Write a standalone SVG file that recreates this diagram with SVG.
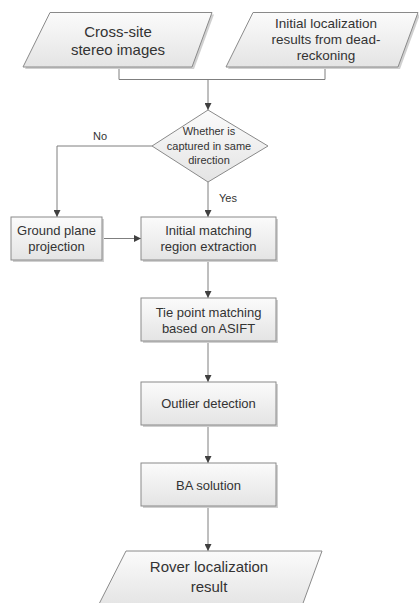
<svg xmlns="http://www.w3.org/2000/svg" width="419" height="603" viewBox="0 0 419 603">
<style>
.shape{fill:url(#g);stroke:#8a8a8a;stroke-width:1}
.shadow{fill:#d0d0d0;stroke:none}
.conn{fill:none;stroke:#7f7f7f;stroke-width:1}
text{font-family:"Liberation Sans",Arial,sans-serif;fill:#333333;text-anchor:middle}
.big{font-size:15px}
.mid{font-size:13.5px}
.box{font-size:13px}
.sm{font-size:11px}
</style>
<defs>
<linearGradient id="g" x1="0" y1="0" x2="0" y2="1">
<stop offset="0" stop-color="#fbfbfb"/>
<stop offset="1" stop-color="#e4e4e4"/>
</linearGradient>
<marker id="arr" markerUnits="userSpaceOnUse" markerWidth="7" markerHeight="7" refX="7" refY="3.5" orient="auto">
<path d="M0,0 L7,3.5 L0,7 z" fill="#404040"/>
</marker>
</defs>
<rect width="419" height="603" fill="#ffffff"/>
<g id="connectors">
<path class="conn" d="M119,67 V79.5 H325 V67"/>
<path class="conn" d="M208,79.5 V110" marker-end="url(#arr)"/>
<path class="conn" d="M152,146 H57 V217" marker-end="url(#arr)"/>
<path class="conn" d="M208,182 V217" marker-end="url(#arr)"/>
<path class="conn" d="M102,238.5 H141" marker-end="url(#arr)"/>
<path class="conn" d="M208,260 V298" marker-end="url(#arr)"/>
<path class="conn" d="M208,342 V382" marker-end="url(#arr)"/>
<path class="conn" d="M208,425 V463" marker-end="url(#arr)"/>
<path class="conn" d="M208,507 V551" marker-end="url(#arr)"/>
<text class="sm" x="100" y="140">No</text>
<text class="sm" x="228" y="201.5">Yes</text>
</g>
<g id="cross-site">
<polygon class="shadow" points="52,14.5 214,14.5 194,69 25,69"/>
<polygon class="shape" points="50,12.5 212,12.5 192,67 23,67"/>
<text class="big" x="118" y="37">Cross-site</text>
<text class="big" x="118" y="55">stereo images</text>
</g>
<g id="dead-reckoning">
<polygon class="shadow" points="255,14.5 420,14.5 400,69 228,69"/>
<polygon class="shape" points="253,12.5 418,12.5 398,67 226,67"/>
<text class="mid" x="326" y="28">Initial localization</text>
<text class="mid" x="326" y="44">results from dead-</text>
<text class="mid" x="326" y="60">reckoning</text>
</g>
<g id="decision">
<polygon class="shape" points="208,110 268,146 208,182 152,146"/>
<text class="sm" x="209" y="135">Whether is</text>
<text class="sm" x="209" y="150">captured in same</text>
<text class="sm" x="209" y="164">direction</text>
</g>
<g id="ground">
<rect class="shadow" x="13" y="219" width="91" height="43"/>
<rect class="shape" x="11" y="217" width="91" height="43"/>
<text class="box" x="56.5" y="235">Ground plane</text>
<text class="box" x="56.5" y="251">projection</text>
</g>
<g id="initial">
<rect class="shadow" x="143" y="219" width="135" height="43"/>
<rect class="shape" x="141" y="217" width="135" height="43"/>
<text class="box" x="208.5" y="235">Initial matching</text>
<text class="box" x="208.5" y="251">region extraction</text>
</g>
<g id="tiepoint">
<rect class="shadow" x="143" y="300" width="135" height="43"/>
<rect class="shape" x="141" y="298" width="135" height="43"/>
<text class="box" x="208.5" y="316.5">Tie point matching</text>
<text class="box" x="208.5" y="333">based on ASIFT</text>
</g>
<g id="outlier">
<rect class="shadow" x="143" y="384" width="135" height="43"/>
<rect class="shape" x="141" y="382" width="135" height="43"/>
<text class="box" x="208.5" y="408">Outlier detection</text>
</g>
<g id="ba">
<rect class="shadow" x="143" y="465" width="135" height="43"/>
<rect class="shape" x="141" y="463" width="135" height="43"/>
<text class="box" x="208.5" y="490">BA solution</text>
</g>
<g id="rover">
<polygon class="shape" points="126,551 322,551 302,606 98,606"/>
<text class="big" x="209" y="572">Rover localization</text>
<text class="big" x="209" y="592">result</text>
</g>
</svg>
